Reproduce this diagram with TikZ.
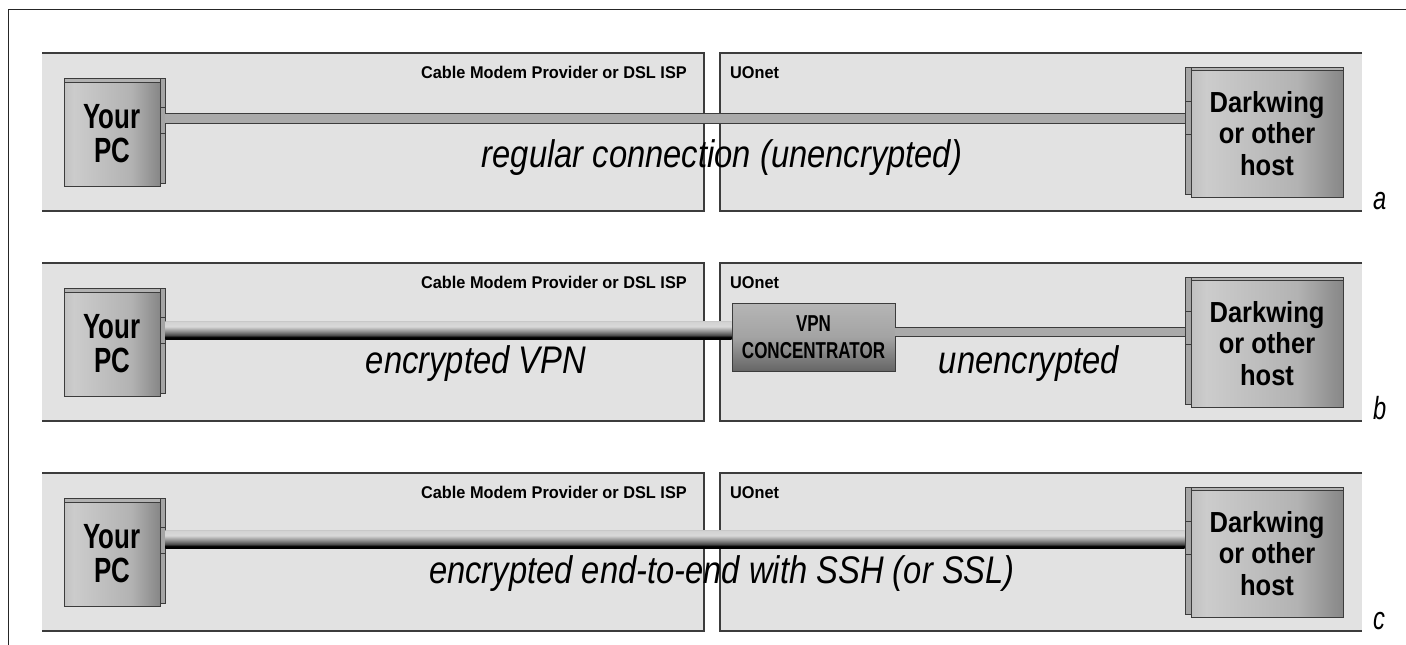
\documentclass[tikz,border=0pt]{standalone}
\usepackage{fontspec}
\setmainfont{Liberation Sans}
\newfontfamily\tagfont{Liberation Sans}[FakeStretch=0.96]
\newfontfamily\pcfont{Liberation Sans}[FakeStretch=0.74]
\newfontfamily\hostfont{Liberation Sans}[FakeStretch=0.88]
\newfontfamily\notefont{Liberation Sans}[FakeStretch=0.85]
\definecolor{panelgrey}{RGB}{226,226,226}
\definecolor{edgegrey}{RGB}{60,60,60}
\definecolor{pipegrey}{RGB}{170,170,170}
\definecolor{tabgrey}{RGB}{165,165,165}
\pgfdeclarehorizontalshading{boxshade}{100bp}{color(0bp)=(black!46); color(30bp)=(black!20); color(60bp)=(black!30); color(88bp)=(black!62); color(100bp)=(black!80)}
\pgfdeclareverticalshading{vpnshade}{100bp}{color(0bp)=(black!95); color(15bp)=(black!70); color(50bp)=(black!36); color(78bp)=(black!28); color(100bp)=(black!45)}
\pgfdeclareverticalshading{tube}{100bp}{color(0bp)=(black); color(30bp)=(black); color(36bp)=(black!70); color(46bp)=(black!45); color(60bp)=(black!15); color(74bp)=(black!18); color(82bp)=(black!45); color(90bp)=(black!60); color(92bp)=(black); color(100bp)=(black)}
\tikzset{
    frame/.style ={draw=black!85, line width=1pt},
    panel/.style ={fill=panelgrey},
    rim/.style ={draw=edgegrey, line width=1.4pt},
    tag/.style ={font=\tagfont\bfseries\fontsize{17}{20}\selectfont, inner sep=0pt},
    pcbox/.style ={
        shade,
        shading=boxshade,
        draw=edgegrey,
        line width=0.8pt,
        inner sep=0pt,
        align=center,
        font=\pcfont\bfseries\fontsize{35}{34}\selectfont
    },
    hostbox/.style ={
        shade,
        shading=boxshade,
        draw=edgegrey,
        line width=0.8pt,
        inner sep=0pt,
        align=center,
        font=\hostfont\bfseries\fontsize{29}{31.5}\selectfont
    },
    vpnbox/.style ={
        shade,
        shading=vpnshade,
        draw=edgegrey,
        line width=0.8pt,
        inner sep=0pt,
        align=center,
        font=\pcfont\bfseries\fontsize{23}{26.7}\selectfont
    },
    strip/.style ={fill=black!30, draw=edgegrey, line width=0.6pt},
    tab/.style ={fill=tabgrey, draw=edgegrey, line width=0.6pt, inner sep=0pt},
    pipe/.style ={draw=edgegrey, double=pipegrey, line width=1pt},
    note/.style ={font=\notefont\itshape\fontsize{38.5}{40}\selectfont, inner sep=0pt},
    letter/.style ={font=\pcfont\itshape\fontsize{32}{34}\selectfont, inner sep=0pt}
}
\begin{document}
\begin{tikzpicture}[x=1pt,y=-1pt]
    \useasboundingbox (0,0) rectangle (1406,645);
    \draw[frame] (8,645) -- (8,9) -- (1406,9);
    \foreach \y/\t in {0/a,210/b,420/c}{
        % the two networks
        \fill[panel] (42,\y+53) rectangle (704,\y+211);
        \draw[rim] (42,\y+53) -| (704,\y+211) -- (42,\y+211);
        \fill[panel] (720,\y+53) rectangle (1362,\y+211);
        \draw[rim] (1362,\y+53) -| (720,\y+211) -- (1362,\y+211);
        \node[tag, anchor=base east] (isp\t) at (687,\y+78) {Cable Modem Provider or DSL ISP};
        \node[tag, anchor=base west] (uo\t) at (730,\y+78) {UOnet};
        % your pc
        \filldraw[strip] (64,\y+78) rectangle (160,\y+82);
        \node[pcbox, minimum width=96pt, minimum height=104pt] (pc\t) at (112,\y+134) {Your\\PC};
        \filldraw[tab] (160,\y+78) rectangle (165,\y+107);
        \node[tab, minimum width=5pt, minimum height=26pt] (pcport\t) at (162.5,\y+120) {};
        \filldraw[tab] (160,\y+133) rectangle (165,\y+183);
        % the host
        \filldraw[strip] (1191,\y+67) rectangle (1343,\y+70);
        \node[hostbox, minimum width=152pt, minimum height=127pt] (host\t) at (1267,\y+133.5) {Darkwing\\or other\\host};
        \filldraw[tab] (1185,\y+67) rectangle (1191,\y+101);
        \node[tab, minimum width=6pt, minimum height=33pt] (hostport\t) at (1188,\y+117.5) {};
        \filldraw[tab] (1185,\y+134) rectangle (1191,\y+194);
        \node[letter, anchor=base west] (tag\t) at (1373,\y+209) {\t};
    }
    % a
    \draw[pipe, double distance=9pt] (pcporta.east |- 0,118.5) -- (hostporta.west |- 0,118.5);
    \node[note, anchor=base] (nota) at (722,167.5) {regular connection (unencrypted)};
    % b
    \node[vpnbox, minimum width=163pt, minimum height=68pt] (vpn) at (813.5,337) {VPN\\CONCENTRATOR};
    \shade[shading=tube] (pcportb.east |- 0,321) rectangle (vpn.west |- 0,339);
    \draw[pipe, double distance=8pt] (vpn.east |- 0,332) -- (hostportb.west |- 0,332);
    \node[note, anchor=base] (notb) at (476,373) {encrypted VPN};
    \node[note, anchor=base] (notvpn) at (1029,373) {unencrypted};
    % c
    \shade[shading=tube] (pcportc.east |- 0,530) rectangle (hostportc.west |- 0,548);
    \node[note, anchor=base] (notc) at (722,583) {encrypted end-to-end with SSH (or SSL)};
\end{tikzpicture}
\end{document}
